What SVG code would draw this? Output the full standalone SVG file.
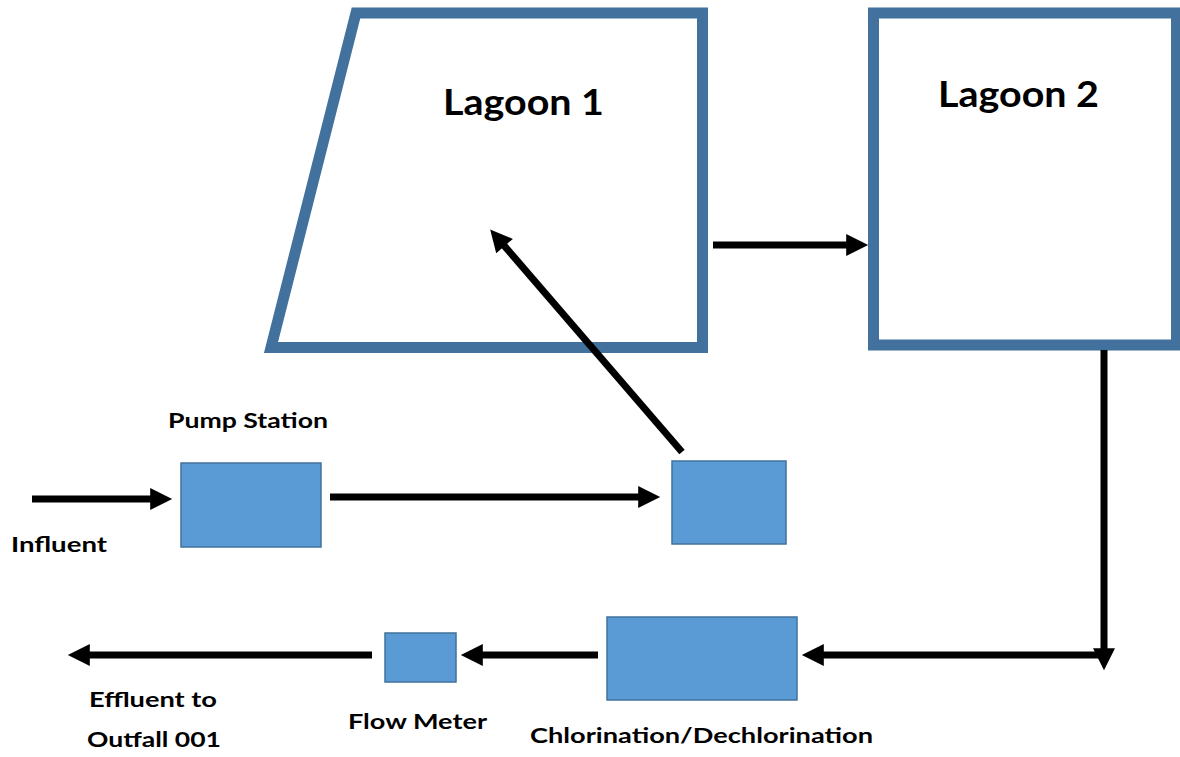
<svg xmlns="http://www.w3.org/2000/svg" width="1180" height="757" viewBox="0 0 1180 757">
<defs>
<style>
.lagoon{fill:#ffffff;stroke:#41719C;stroke-width:11;stroke-linejoin:miter}
.box{fill:#5B9BD5;stroke:#41719C;stroke-width:1.5}
.conn{fill:none;stroke:#000000;stroke-width:7}
.big{font-family:Lato,"Liberation Sans",sans-serif;font-weight:bold;font-size:37px;fill:#000000}
.lbl{font-family:Lato,"Liberation Sans",sans-serif;font-weight:bold;font-size:21px;fill:#000000}
</style>
<marker id="ah" viewBox="0 0 10 10" markerWidth="24" markerHeight="22" markerUnits="userSpaceOnUse" refX="1" refY="5" orient="auto">
<path d="M0,0 L10,5 L0,10 z" fill="#000000"/>
</marker>
</defs>
<rect width="1180" height="757" fill="#ffffff"/>
<g id="lagoon1">
<polygon class="lagoon" points="356,13 702.5,13 702.5,347.5 271,347.5"/>
<text class="big" x="443" y="115" textLength="161" lengthAdjust="spacingAndGlyphs">Lagoon 1</text>
</g>
<g id="lagoon2">
<rect class="lagoon" x="873.5" y="13" width="303" height="332"/>
<text class="big" x="938" y="107" textLength="161" lengthAdjust="spacingAndGlyphs">Lagoon 2</text>
</g>
<g id="pump-station">
<rect class="box" x="181" y="463" width="140" height="84"/>
<text class="lbl" x="168" y="428" textLength="160" lengthAdjust="spacingAndGlyphs">Pump Station</text>
</g>
<g id="splitter">
<rect class="box" x="672" y="461" width="114" height="83"/>
</g>
<g id="chlorination">
<rect class="box" x="607" y="617" width="190" height="83"/>
<text class="lbl" x="530" y="743" textLength="343" lengthAdjust="spacingAndGlyphs">Chlorination/Dechlorination</text>
</g>
<g id="flow-meter">
<rect class="box" x="385" y="633" width="71" height="49"/>
<text class="lbl" x="348" y="729" textLength="139" lengthAdjust="spacingAndGlyphs">Flow Meter</text>
</g>
<g id="influent">
<text class="lbl" x="11" y="552" textLength="96" lengthAdjust="spacingAndGlyphs">Influent</text>
</g>
<g id="effluent">
<text class="lbl" x="89" y="707" textLength="128" lengthAdjust="spacingAndGlyphs">Effluent to</text>
<text class="lbl" x="87" y="747" textLength="134" lengthAdjust="spacingAndGlyphs">Outfall 001</text>
</g>
<g id="connectors">
<line class="conn" x1="32" y1="499" x2="152.4" y2="499" marker-end="url(#ah)"/>
<line class="conn" x1="330" y1="497" x2="640.4" y2="497" marker-end="url(#ah)"/>
<line class="conn" x1="682" y1="452" x2="503.1" y2="244.4" marker-end="url(#ah)"/>
<line class="conn" x1="713" y1="245" x2="848.4" y2="245" marker-end="url(#ah)"/>
<line class="conn" x1="1104" y1="350" x2="1104" y2="650.4" marker-end="url(#ah)"/>
<line class="conn" x1="1107" y1="655" x2="821.6" y2="655" marker-end="url(#ah)"/>
<line class="conn" x1="598" y1="655" x2="480.6" y2="655" marker-end="url(#ah)"/>
<line class="conn" x1="372" y1="655" x2="87.6" y2="655" marker-end="url(#ah)"/>
</g>
</svg>
